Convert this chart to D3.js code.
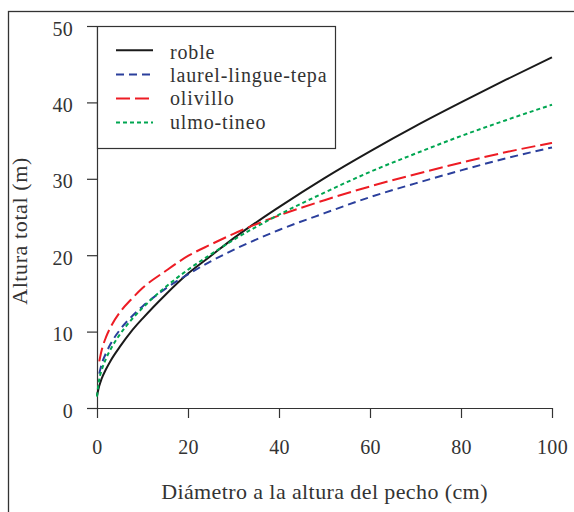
<!DOCTYPE html>
<html>
<head>
<meta charset="utf-8">
<script src="https://cdn.jsdelivr.net/npm/d3@7"></script>
<style>
  html, body { margin: 0; padding: 0; background: #fff; }
  svg { display: block; }
  svg text { font-family: "Liberation Serif", Tinos, "Times New Roman", "DejaVu Serif", serif; fill: #333; }
</style>
</head>
<body>
<svg id="chart" width="574" height="512"></svg>
<script>
// Diámetro a la altura del pecho (cm)
const diametros = [0, 0.5, 1, 2, 3, 5, 7.5, 10, 15, 20, 25, 30, 40, 50, 60, 70, 80, 90, 100];

// Altura total (m) por grupo de especies
const roble    = [1.6, 2.9, 3.8, 5.1, 6.2, 8.0, 10.0, 11.7, 14.8, 17.6, 19.9, 22.2, 26.3, 30.1, 33.6, 36.9, 40.0, 43.0, 45.9];
const laurel   = [null, 4.5, 5.7, 7.2, 8.4, 10.2, 11.9, 13.3, 15.6, 17.5, 19.2, 20.7, 23.3, 25.5, 27.6, 29.4, 31.1, 32.7, 34.1];
const olivillo = [null, 6.1, 7.5, 9.3, 10.6, 12.5, 14.2, 15.7, 17.9, 19.9, 21.4, 22.8, 25.2, 27.2, 29.0, 30.6, 32.1, 33.5, 34.7];
const ulmo     = [1.5, 3.8, 4.9, 6.5, 7.7, 9.6, 11.5, 13.1, 15.8, 18.1, 20.1, 22.0, 25.3, 28.2, 30.9, 33.3, 35.6, 37.7, 39.7];

const nombres = ["roble", "laurel-lingue-tepa", "olivillo", "ulmo-tineo"];
const xTicks = [0, 20, 40, 60, 80, 100];
const yTicks = [0, 10, 20, 30, 40, 50];

const series = [
  { name: nombres[0], values: roble,    color: "#1a1a1a", dash: null },
  { name: nombres[1], values: laurel,   color: "#2b3f9c", dash: "8,5" },
  { name: nombres[2], values: olivillo, color: "#ed1c24", dash: "14,5" },
  { name: nombres[3], values: ulmo,     color: "#00a651", dash: "4,3" }
];

const svg = d3.select("#chart");
const ink = "#333";

// outer frame of the figure
svg.append("rect")
  .attr("x", 8.5).attr("y", 11.5)
  .attr("width", 600).attr("height", 600)
  .attr("fill", "none").attr("stroke", ink).attr("stroke-width", 1.3);

const x = d3.scaleLinear().domain([0, 100]).range([97, 552]);
const y = d3.scaleLinear().domain([0, 50]).range([408, 26]);

// axes
const xAxis = svg.append("g").attr("transform", `translate(0,${y(0)})`)
  .call(d3.axisBottom(x).tickValues(xTicks).tickSize(10).tickSizeOuter(0));
const yAxis = svg.append("g").attr("transform", `translate(${x(0)},0)`)
  .call(d3.axisLeft(y).tickValues(yTicks).tickSize(10).tickPadding(14).tickSizeOuter(0));

[xAxis, yAxis].forEach(g => {
  g.attr("font-family", null);
  g.select(".domain").attr("stroke", ink).attr("stroke-width", 1.2);
  g.selectAll(".tick line").attr("stroke", ink).attr("stroke-width", 1.2);
  g.selectAll(".tick text").attr("font-size", 20).attr("fill", ink)
    .attr("letter-spacing", 0.3);
});
xAxis.selectAll(".tick text").attr("dy", 0).attr("y", 46);
yAxis.selectAll(".tick text").attr("dy", "0.45em");

// axis titles
svg.append("text")
  .attr("x", (x(0) + x(100)) / 2).attr("y", 499)
  .attr("text-anchor", "middle").attr("font-size", 22)
  .attr("letter-spacing", 0.4)
  .text("Diámetro a la altura del pecho (cm)");
svg.append("text")
  .attr("transform", "translate(27,231) rotate(-90)")
  .attr("text-anchor", "middle").attr("font-size", 22)
  .attr("letter-spacing", 0.6)
  .text("Altura total (m)");

// curves
const line = d3.line()
  .defined(d => d[1] !== null)
  .x(d => x(d[0])).y(d => y(d[1]))
  .curve(d3.curveMonotoneX);

series.forEach(s => {
  const pts = diametros.map((d, i) => [d, s.values[i]]);
  svg.append("path")
    .datum(pts)
    .attr("d", line)
    .attr("fill", "none")
    .attr("stroke", s.color)
    .attr("stroke-width", 2)
    .attr("stroke-dasharray", s.dash);
});

// legend
const leg = svg.append("g");
leg.append("rect")
  .attr("x", 97.5).attr("y", 26.5).attr("width", 238).attr("height", 122)
  .attr("fill", "#fff").attr("stroke", ink).attr("stroke-width", 1.2);
series.forEach((s, i) => {
  const ly = 50.3 + i * 24.1;
  leg.append("line")
    .attr("x1", 116).attr("x2", 153).attr("y1", ly).attr("y2", ly)
    .attr("stroke", s.color).attr("stroke-width", 2)
    .attr("stroke-dasharray", s.dash);
  leg.append("text")
    .attr("x", 170).attr("y", 58.5 + i * 23.4)
    .attr("font-size", 20).attr("letter-spacing", 0.85)
    .text(s.name);
});
</script>
</body>
</html>
